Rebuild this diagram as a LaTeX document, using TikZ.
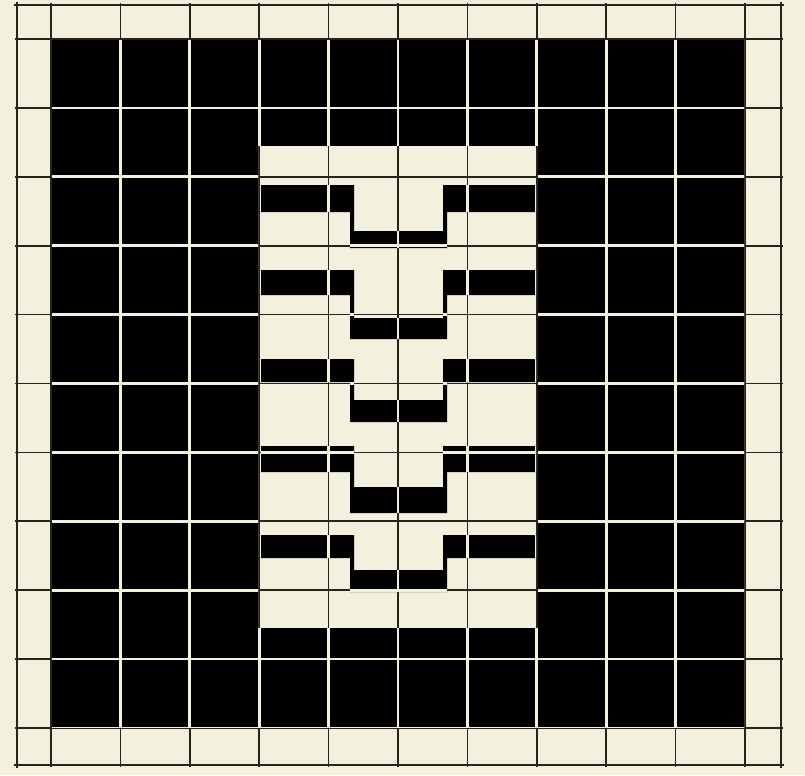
\documentclass[tikz,border=0pt]{standalone}
\definecolor{paper}{RGB}{243,241,221}
\definecolor{ink}{RGB}{38,36,28}
\definecolor{solid}{RGB}{6,6,6}
\newcommand\mygrid[1]{%
  \foreach \gx in {51,120.4,189.8,259.2,328.6,398,467.4,536.8,606.2,675.6,745}
    {\draw[#1] (\gx,3) -- (\gx,767);}
  \foreach \gy in {39,107.9,176.8,245.7,314.6,383.5,452.4,521.3,590.2,659.1,728}
    {\draw[#1] (15,\gy) -- (783,\gy);}
}
\begin{document}
\begin{tikzpicture}[x=0.03cm,y=-0.03cm,
  darkline/.style={draw=ink,line width=1.5pt},
  borderline/.style={draw=ink,line width=1.9pt},
  whiteline/.style={draw=paper,line width=2.3pt}]
\fill[paper] (0,0) rectangle (805,775);
\useasboundingbox (0,0) rectangle (805,775);
% dark grid on paper
\mygrid{darkline}
\draw[borderline] (17,2) -- (17,768);
\draw[borderline] (781,2) -- (781,768);
\draw[borderline] (14,5) -- (784,5);
\draw[borderline] (14,765) -- (784,765);
% black frame around the window, with white grid lines
\foreach \ax/\ay/\bx/\by in {52/40/744/145, 52/628/744/727, 52/145/258/628, 538/145/744/628}{
  \begin{scope}
    \clip (\ax,\ay) rectangle (\bx,\by);
    \fill[solid] (0,0) rectangle (805,775);
    \mygrid{whiteline}
  \end{scope}
}
% stepped bands inside the window
\foreach \lt/\lb/\mt/\mb in {185/212/231/248, 270/295/318/339, 359/382/400/422, 446/472/487/513, 535/558/570/592}{
  \begin{scope}
    \clip (261,\lt) -- (354,\lt) -- (354,\mt) -- (443,\mt) -- (443,\lt) -- (536,\lt)
      -- (536,\lb) -- (447,\lb) -- (447,\mb) -- (350,\mb) -- (350,\lb) -- (261,\lb) -- cycle;
    \fill[solid] (0,0) rectangle (805,775);
    \mygrid{whiteline}
  \end{scope}
}
\end{tikzpicture}
\end{document}
